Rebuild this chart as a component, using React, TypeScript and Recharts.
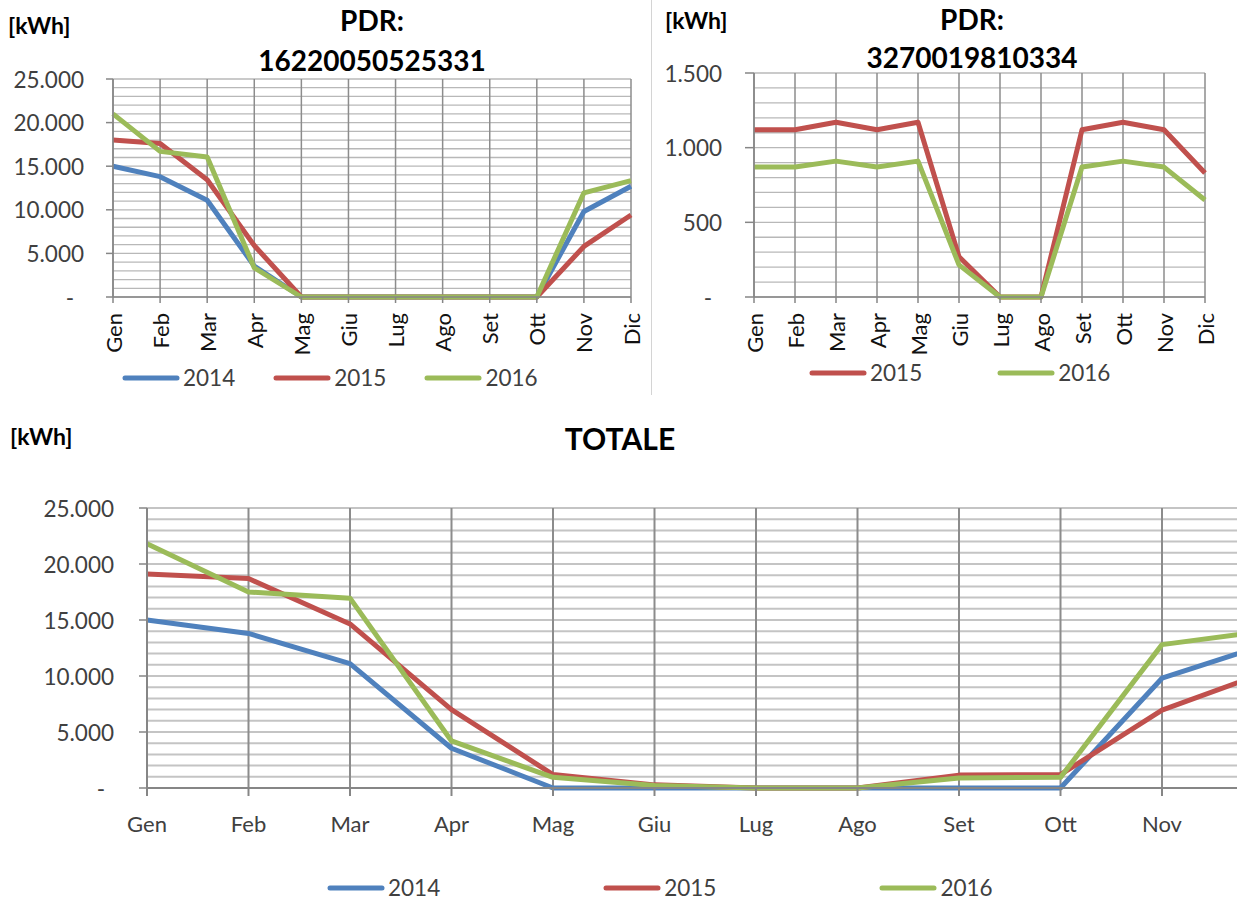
import React from 'react';
import { LineChart, Line, XAxis, YAxis, CartesianGrid, Legend } from 'recharts';

const MONTHS = ['Gen', 'Feb', 'Mar', 'Apr', 'Mag', 'Giu', 'Lug', 'Ago', 'Set', 'Ott', 'Nov', 'Dic'];
// months whose label falls outside the visible (cropped) bottom chart
const HIDDEN_BOTTOM_LABELS = ['Dic'];

// PDR 16220050525331
const pdr1_2014 = [15000, 13800, 11100, 3550, 0, 0, 0, 0, 0, 0, 9800, 12700];
const pdr1_2015 = [18000, 17600, 13450, 5900, 0, 0, 0, 0, 0, 0, 5800, 9400];
const pdr1_2016 = [21000, 16700, 16050, 3350, 0, 0, 0, 0, 0, 0, 11950, 13350];

// PDR 3270019810334
const pdr2_2015 = [1120, 1120, 1170, 1120, 1170, 270, 0, 0, 1120, 1170, 1120, 830];
const pdr2_2016 = [870, 870, 910, 870, 910, 215, 0, 0, 870, 910, 870, 650];

// TOTALE
const tot_2014 = [15000, 13800, 11100, 3550, 0, 0, 0, 0, 0, 0, 9800, 12750];
const tot_2015 = [19100, 18700, 14650, 7000, 1200, 280, 0, 0, 1150, 1200, 6950, 10250];
const tot_2016 = [21800, 17500, 16950, 4200, 950, 220, 0, 0, 900, 950, 12800, 14000];

const TICKS_25K = [0, 1000, 2000, 3000, 4000, 5000, 6000, 7000, 8000, 9000, 10000, 11000, 12000, 13000, 14000, 15000, 16000, 17000, 18000, 19000, 20000, 21000, 22000, 23000, 24000, 25000];
const TICKS_1500 = [0, 100, 200, 300, 400, 500, 600, 700, 800, 900, 1000, 1100, 1200, 1300, 1400, 1500];

const BLUE = '#4F81BD';
const RED = '#C0504D';
const GREEN = '#9BBB59';
const AXIS = '#868686';
const FONT = 'Lato, "Open Sans", sans-serif';

const data1 = MONTHS.map((m, i) => ({ month: m, y2014: pdr1_2014[i], y2015: pdr1_2015[i], y2016: pdr1_2016[i] }));
const data2 = MONTHS.map((m, i) => ({ month: m, y2015: pdr2_2015[i], y2016: pdr2_2016[i] }));
const data3 = MONTHS.map((m, i) => ({ month: m, y2014: tot_2014[i], y2015: tot_2015[i], y2016: tot_2016[i] }));

function fmt(v: number): string {
  if (v === 0) return '-';
  return String(v).replace(/\B(?=(\d{3})+(?!\d))/g, '.');
}

const YTick = (props: any) => {
  const { x, y, payload, majorStep, gap, tl, dashShift } = props;
  const v = payload.value;
  if (v % majorStep !== 0) return <g />;
  return (
    <g>
      <line x1={x - tl} x2={x} y1={y} y2={y} stroke={AXIS} strokeWidth={1.5} />
      <text
        x={v === 0 ? x - gap - dashShift : x - gap}
        y={y}
        textAnchor="end"
        dominantBaseline="central"
        fill="#404040"
        fontSize={22.5}
        fontFamily={FONT}
      >
        {fmt(v)}
      </text>
    </g>
  );
};

const XTickRot = (props: any) => {
  const { x, y, payload } = props;
  return (
    <text
      transform={`translate(${x},${y}) rotate(-90)`}
      textAnchor="end"
      dominantBaseline="central"
      fill="#111"
      fontSize={22}
      fontFamily={FONT}
    >
      {payload.value}
    </text>
  );
};

const XTickBottom = (props: any) => {
  const { x, y, payload } = props;
  if (HIDDEN_BOTTOM_LABELS.includes(payload.value)) return <g />;
  return (
    <text x={x} y={y} textAnchor="middle" dominantBaseline="central" fill="#404040" fontSize={22} fontFamily={FONT}>
      {payload.value}
    </text>
  );
};

const makeLegend = (startLeft: number, gap: number) => (props: any) => (
  <div style={{ display: 'flex', alignItems: 'center', paddingLeft: startLeft, gap, height: 30 }}>
    {(props.payload || []).map((e: any) => (
      <div key={e.value} style={{ display: 'flex', alignItems: 'center' }}>
        <svg width={58} height={8}>
          <line x1={3} x2={55} y1={4} y2={4} stroke={e.color} strokeWidth={5} strokeLinecap="round" />
        </svg>
        <span style={{ marginLeft: 3, fontSize: 22.5, color: '#404040', fontFamily: FONT, lineHeight: '30px' }}>{e.value}</span>
      </div>
    ))}
  </div>
);

const lineProps = { type: 'linear' as const, dot: false, activeDot: false, isAnimationActive: false, strokeLinejoin: 'round' as const };

const textBold: React.CSSProperties = { position: 'absolute', fontFamily: FONT, fontWeight: 700, color: '#000', whiteSpace: 'nowrap' };

export default function App() {
  return (
    <div style={{ position: 'absolute', left: 0, top: 0, width: 1237, height: 902, overflow: 'hidden', background: '#fff', fontFamily: FONT }}>
      {/* Chart 1 */}
      <div style={{ position: 'absolute', left: 0, top: 0 }}>
        <LineChart width={650} height={400} data={data1} margin={{ top: 79, right: 19, bottom: 0, left: 0 }}>
          <CartesianGrid vertical={false} stroke="#B8B8B8" strokeWidth={1.3} />
          <CartesianGrid horizontal={false} stroke="#8C8C8C" strokeWidth={1.5} />
          <XAxis dataKey="month" interval={0} height={103} tickSize={6} tickMargin={10}
            axisLine={{ stroke: AXIS, strokeWidth: 1.5 }} tickLine={{ stroke: AXIS, strokeWidth: 1.5 }}
            tick={<XTickRot />} />
          <YAxis type="number" domain={[0, 25000]} ticks={TICKS_25K} interval={0} width={113}
            tickSize={0} tickMargin={0} tickLine={false} axisLine={{ stroke: AXIS, strokeWidth: 1.5 }}
            tick={<YTick majorStep={5000} gap={29} tl={7} dashShift={10} />} />
          <Legend verticalAlign="middle" align="center" layout="horizontal"
            wrapperStyle={{ top: 363, left: 0, width: 650, height: 30 }}
            content={makeLegend(122, 38)} />
          <Line {...lineProps} dataKey="y2014" name="2014" stroke={BLUE} strokeWidth={5} />
          <Line {...lineProps} dataKey="y2015" name="2015" stroke={RED} strokeWidth={5} />
          <Line {...lineProps} dataKey="y2016" name="2016" stroke={GREEN} strokeWidth={5} />
        </LineChart>
      </div>
      <div style={{ ...textBold, left: 8, top: 10, fontSize: 23, lineHeight: '30px' }}>[kWh]</div>
      <div style={{ ...textBold, left: 172, top: 0, width: 400, textAlign: 'center', fontSize: 28, lineHeight: '40px' }}>
        PDR:<br />16220050525331
      </div>

      {/* separator */}
      <div style={{ position: 'absolute', left: 651, top: 0, width: 1, height: 395, background: '#D4D4D4' }} />

      {/* Chart 2 */}
      <div style={{ position: 'absolute', left: 652, top: 0 }}>
        <LineChart width={585} height={400} data={data2} margin={{ top: 73, right: 32, bottom: 0, left: 0 }}>
          <CartesianGrid vertical={false} stroke="#B8B8B8" strokeWidth={1.3} />
          <CartesianGrid horizontal={false} stroke="#8C8C8C" strokeWidth={1.5} />
          <XAxis dataKey="month" interval={0} height={103} tickSize={6} tickMargin={10}
            axisLine={{ stroke: AXIS, strokeWidth: 1.5 }} tickLine={{ stroke: AXIS, strokeWidth: 1.5 }}
            tick={<XTickRot />} />
          <YAxis type="number" domain={[0, 1500]} ticks={TICKS_1500} interval={0} width={102}
            tickSize={0} tickMargin={0} tickLine={false} axisLine={{ stroke: AXIS, strokeWidth: 1.5 }}
            tick={<YTick majorStep={500} gap={32} tl={9} dashShift={10} />} />
          <Legend verticalAlign="middle" align="center" layout="horizontal"
            wrapperStyle={{ top: 358, left: 0, width: 585, height: 30 }}
            content={makeLegend(157, 75)} />
          <Line {...lineProps} dataKey="y2015" name="2015" stroke={RED} strokeWidth={5} />
          <Line {...lineProps} dataKey="y2016" name="2016" stroke={GREEN} strokeWidth={5} />
        </LineChart>
      </div>
      <div style={{ ...textBold, left: 665, top: 5, fontSize: 23, lineHeight: '30px' }}>[kWh]</div>
      <div style={{ ...textBold, left: 772, top: 0, width: 400, textAlign: 'center', fontSize: 28, lineHeight: '38px' }}>
        PDR:<br />3270019810334
      </div>

      {/* Chart 3 */}
      <div style={{ position: 'absolute', left: 0, top: 400 }}>
        <LineChart width={1285} height={502} data={data3} margin={{ top: 108, right: 21.5, bottom: 0, left: 0 }}>
          <CartesianGrid vertical={false} stroke="#C4C4C4" strokeWidth={2} />
          <CartesianGrid horizontal={false} stroke="#8C8C8C" strokeWidth={2} />
          <XAxis dataKey="month" interval={0} height={114} tickSize={8} tickMargin={27}
            axisLine={{ stroke: AXIS, strokeWidth: 2 }} tickLine={{ stroke: AXIS, strokeWidth: 2 }}
            tick={<XTickBottom />} />
          <YAxis type="number" domain={[0, 25000]} ticks={TICKS_25K} interval={0} width={147}
            tickSize={0} tickMargin={0} tickLine={false} axisLine={{ stroke: AXIS, strokeWidth: 2 }}
            tick={<YTick majorStep={5000} gap={33} tl={8} dashShift={9} />} />
          <Legend verticalAlign="middle" align="center" layout="horizontal"
            wrapperStyle={{ top: 473, left: 0, width: 1285, height: 30 }}
            content={makeLegend(327, 163)} />
          <Line {...lineProps} dataKey="y2014" name="2014" stroke={BLUE} strokeWidth={5} />
          <Line {...lineProps} dataKey="y2015" name="2015" stroke={RED} strokeWidth={5} />
          <Line {...lineProps} dataKey="y2016" name="2016" stroke={GREEN} strokeWidth={5} />
        </LineChart>
      </div>
      <div style={{ ...textBold, left: 10, top: 421, fontSize: 23, lineHeight: '30px' }}>[kWh]</div>
      <div style={{ ...textBold, left: 420, top: 418, width: 400, textAlign: 'center', fontSize: 30, lineHeight: '40px' }}>
        TOTALE
      </div>
    </div>
  );
}
